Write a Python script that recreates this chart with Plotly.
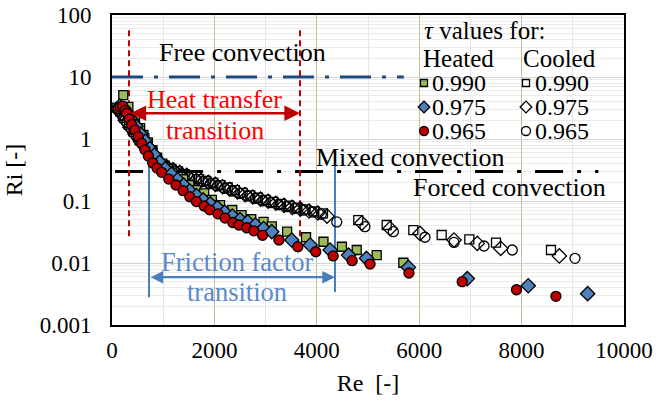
import math
import plotly.graph_objects as go

# ---------------- data ----------------
# Heated runs (tau values)
re_h990 = [220, 320, 450, 550, 615, 700, 790, 880, 980, 1080, 1180, 1290, 1390, 1510, 1640, 1800,
           1950, 2110, 2350, 2530, 2720, 2960, 3120, 3420, 3790, 4130, 4490, 4780, 5170, 5690]
ri_h990 = [5.1, 3.3, 2.2, 1.5, 1.16, 0.88, 0.66, 0.5, 0.4, 0.33, 0.28, 0.245, 0.224, 0.18, 0.150, 0.133,
           0.104, 0.086, 0.0716, 0.059, 0.051, 0.046, 0.039, 0.032, 0.026, 0.022, 0.0183, 0.0162, 0.0134, 0.0101]

re_h975 = [150, 230, 300, 380, 470, 560, 650, 740, 830, 930, 1040, 1160, 1280, 1400, 1520, 1650, 1780,
           1920, 2060, 2200, 2350, 2500, 2650, 2800, 2960, 3120, 3510, 3870, 4260, 4620, 4970, 5790,
           6940, 8130, 9290]
ri_h975 = [3.4, 3.1, 2.6, 2.05, 1.6, 1.2, 0.92, 0.7, 0.55, 0.42, 0.33, 0.27, 0.22, 0.18, 0.145, 0.122, 0.104,
           0.09, 0.078, 0.066, 0.057, 0.05, 0.046, 0.041, 0.036, 0.032, 0.0235, 0.0195, 0.0162, 0.0134, 0.0119, 0.0085,
           0.0056, 0.0043, 0.0032]

re_h965 = [120, 160, 210, 255, 290, 340, 385, 450, 515, 580, 645, 710, 795, 880, 970, 1110, 1250, 1390,
           1520, 1650, 1800, 1910, 2070, 2210, 2360, 2480, 2630, 2770, 2940, 3260, 3630, 3980, 4320,
           4690, 5040, 5800, 6840, 7900, 8670]
ri_h965 = [3.1, 3.3, 3.4, 2.9, 2.6, 2.1, 1.7, 1.4, 1.09, 0.85, 0.67, 0.53, 0.41, 0.34, 0.29, 0.226, 0.181, 0.147,
           0.117, 0.098, 0.083, 0.072, 0.062, 0.053, 0.045, 0.041, 0.037, 0.033, 0.028, 0.0235, 0.0183, 0.0152, 0.013,
           0.0109, 0.0096, 0.0069, 0.005, 0.0037, 0.0029]

# Cooled runs
re_c990 = [90, 160, 240, 330, 430, 540, 650, 770, 900, 1030, 1160, 1290, 1420, 1560, 1700, 1840, 1980,
           2120, 2260, 2400, 2550, 2700, 2850, 3000, 3150, 3300, 3460, 3620, 3780, 3950, 4120, 4810,
           5365, 5885, 6439, 6979, 7500, 8574]
ri_c990 = [3.2, 2.8, 2.2, 1.7, 1.3, 0.95, 0.72, 0.55, 0.43, 0.37, 0.33, 0.30, 0.27, 0.245, 0.225, 0.21, 0.195,
           0.18, 0.165, 0.15, 0.135, 0.123, 0.113, 0.104, 0.097, 0.09, 0.084, 0.078, 0.073, 0.068, 0.063, 0.049,
           0.041, 0.034, 0.0283, 0.0241, 0.0213, 0.0162]

re_c975 = [110, 180, 260, 350, 450, 560, 680, 800, 930, 1060, 1190, 1320, 1460, 1600, 1740, 1880, 2020,
           2160, 2300, 2450, 2600, 2750, 2900, 3050, 3200, 3360, 3520, 3680, 3850, 4020, 4200, 4880,
           5430, 6016, 6680, 7135, 7592, 8737]
ri_c975 = [3.0, 2.6, 2.0, 1.55, 1.2, 0.9, 0.68, 0.52, 0.42, 0.36, 0.32, 0.29, 0.26, 0.235, 0.215, 0.2, 0.185,
           0.17, 0.155, 0.14, 0.127, 0.116, 0.107, 0.099, 0.092, 0.085, 0.079, 0.074, 0.069, 0.064, 0.057, 0.044,
           0.036, 0.030, 0.0235, 0.0207, 0.0172, 0.013]

re_c965 = [130, 200, 290, 380, 480, 590, 710, 830, 960, 1090, 1220, 1360, 1500, 1640, 1780, 1920, 2060,
           2200, 2350, 2500, 2650, 2800, 2950, 3100, 3260, 3420, 3580, 3750, 3920, 4090, 4390, 4940,
           5495, 6113, 6680, 7266, 7818, 9043]
ri_c965 = [2.9, 2.4, 1.85, 1.45, 1.1, 0.83, 0.62, 0.48, 0.4, 0.345, 0.305, 0.275, 0.245, 0.225, 0.205, 0.19, 0.175,
           0.16, 0.145, 0.132, 0.12, 0.11, 0.101, 0.094, 0.087, 0.081, 0.076, 0.071, 0.066, 0.061, 0.046, 0.0386,
           0.032, 0.026, 0.0215, 0.0188, 0.0162, 0.0119]

# Regime boundaries (Ri) and their extents (Re)
ri_free = 10
re_free = [0, 5700]
ri_mixed = 0.3
re_mixed = [60, 9500]

# Heat-transfer transition band (Re) and friction-factor transition band (Re)
re_heat = [332, 3672]
ri_heat_span = [57, 0.026]
ri_heat_arrow = 2.6
re_fric = [723, 4355]
ri_fric_lo = [1.25, 0.38]
ri_fric_hi = [0.0028, 0.0034]
ri_fric_arrow = 0.0059

x_ticks = [0, 2000, 4000, 6000, 8000, 10000]
x_ticktext = ["0", "2000", "4000", "6000", "8000", "10000"]
y_ticks = [0.001, 0.01, 0.1, 1, 10, 100]
y_ticktext = ["0.001", "0.01", "0.1", "1", "10", "100"]
y_minor = [m * 10.0 ** e for e in range(-3, 2) for m in range(2, 10)]

legend_labels = ["0.990", "0.975", "0.965"]

# ---------------- style ----------------
FONT = "'Liberation Serif', 'Times New Roman', Times, serif"
GREEN = "#9BBB59"
BLUE = "#4F81BD"
RED = "#C00000"
DARKRED = "#C00000"
TXTRED = "#FF0000"
FBLUE = "#4A7EBB"
FTXT = "#5A8ACB"
NAVY = "#1F497D"
TAN = "#C4BD97"

fig = go.Figure()

# regime boundary lines
fig.add_trace(go.Scatter(x=re_free, y=[ri_free, ri_free], mode="lines",
                         line=dict(color=NAVY, width=3, dash="31px,11px,4px,11px"),
                         hoverinfo="skip", showlegend=False))
fig.add_trace(go.Scatter(x=re_mixed, y=[ri_mixed, ri_mixed], mode="lines",
                         line=dict(color="black", width=3, dash="28px,14px,4px,14px"),
                         hoverinfo="skip", showlegend=False))

# heat transfer transition bounds (red dashed)
for r in re_heat:
    fig.add_trace(go.Scatter(x=[r, r], y=ri_heat_span, mode="lines",
                             line=dict(color=DARKRED, width=2, dash="6px,4px"),
                             hoverinfo="skip", showlegend=False))
# friction factor transition bounds (blue solid)
for r, lo, hi in zip(re_fric, ri_fric_lo, ri_fric_hi):
    fig.add_trace(go.Scatter(x=[r, r], y=[lo, hi], mode="lines",
                             line=dict(color=FBLUE, width=2),
                             hoverinfo="skip", showlegend=False))

mline = dict(color="black", width=1.3)

# cooled series (open markers)
fig.add_trace(go.Scatter(x=re_c990, y=ri_c990, mode="markers", name="Cooled 0.990",
                         marker=dict(symbol="square-open", size=9, color="black", line=mline)))
fig.add_trace(go.Scatter(x=re_c975, y=ri_c975, mode="markers", name="Cooled 0.975",
                         marker=dict(symbol="diamond-open", size=11, color="black", line=mline)))
fig.add_trace(go.Scatter(x=re_c965, y=ri_c965, mode="markers", name="Cooled 0.965",
                         marker=dict(symbol="circle-open", size=10, color="black", line=mline)))

# heated series (filled markers)
fig.add_trace(go.Scatter(x=re_h990, y=ri_h990, mode="markers", name="Heated 0.990",
                         marker=dict(symbol="square", size=9, color=GREEN, line=mline)))
fig.add_trace(go.Scatter(x=re_h975, y=ri_h975, mode="markers", name="Heated 0.975",
                         marker=dict(symbol="diamond", size=11, color=BLUE, line=mline)))
fig.add_trace(go.Scatter(x=re_h965, y=ri_h965, mode="markers", name="Heated 0.965",
                         marker=dict(symbol="circle", size=10, color=RED, line=mline)))

# legend block drawn on an overlay axis measured in pixels of the plot area
leg_x_heated = 424
leg_x_cooled = 526
leg_rows = [83, 107, 131]
heated_syms = [("square", GREEN, 7), ("diamond", BLUE, 9), ("circle", RED, 9)]
cooled_syms = [("square-open", "black", 7), ("diamond-open", "black", 9), ("circle-open", "black", 9)]
for (sym, col, sz), yrow in zip(heated_syms, leg_rows):
    fig.add_trace(go.Scatter(x=[leg_x_heated], y=[yrow], xaxis="x2", yaxis="y2", mode="markers",
                             marker=dict(symbol=sym, size=sz, color=col, line=mline),
                             hoverinfo="skip", showlegend=False))
for (sym, col, sz), yrow in zip(cooled_syms, leg_rows):
    fig.add_trace(go.Scatter(x=[leg_x_cooled], y=[yrow], xaxis="x2", yaxis="y2", mode="markers",
                             marker=dict(symbol=sym, size=sz, color=col, line=mline),
                             hoverinfo="skip", showlegend=False))

ann = []
tf = dict(family=FONT, size=24, color="black")
hf = dict(family=FONT, size=25, color="black")
ann.append(dict(x=422, y=30, xref="x2", yref="y2", text="<i>τ</i> values for:", showarrow=False,
                xanchor="left", yanchor="middle", font=hf))
ann.append(dict(x=421, y=58, xref="x2", yref="y2", text="Heated", showarrow=False,
                xanchor="left", yanchor="middle", font=hf))
ann.append(dict(x=521, y=58, xref="x2", yref="y2", text="Cooled", showarrow=False,
                xanchor="left", yanchor="middle", font=hf))
for lab, yrow in zip(legend_labels, leg_rows):
    ann.append(dict(x=431, y=yrow, xref="x2", yref="y2", text=lab, showarrow=False,
                    xanchor="left", yanchor="middle", font=tf, borderpad=0))
    ann.append(dict(x=534, y=yrow, xref="x2", yref="y2", text=lab, showarrow=False,
                    xanchor="left", yanchor="middle", font=tf, borderpad=0))

# regime labels
af = dict(family=FONT, size=26, color="black")
ann.append(dict(x=2539, y=math.log10(25), text="Free convection", showarrow=False, font=af))
ann.append(dict(x=5820, y=math.log10(0.5), text="Mixed convection", showarrow=False, font=af,
                borderpad=0))
ann.append(dict(x=7754, y=math.log10(0.168), text="Forced convection", showarrow=False, font=af))

# heat transfer transition
rf = dict(family=FONT, size=26, color=TXTRED)
ann.append(dict(x=2010, y=math.log10(4.26), text="Heat transfer", showarrow=False, font=rf))
ann.append(dict(x=2010, y=math.log10(1.35), text="transition", showarrow=False, font=rf))
ann.append(dict(x=re_heat[1], y=math.log10(ri_heat_arrow), ax=re_heat[0], ay=math.log10(ri_heat_arrow),
                axref="x", ayref="y", text="", showarrow=True, arrowside="end+start",
                arrowhead=2, startarrowhead=2, arrowsize=1.25, startarrowsize=1.25,
                arrowwidth=2.5, arrowcolor=DARKRED))

# friction factor transition
bf = dict(family=FONT, size=26.5, color=FTXT)
ann.append(dict(x=2441, y=math.log10(0.0104), text="Friction factor", showarrow=False, font=bf))
ann.append(dict(x=2441, y=math.log10(0.0034), text="transition", showarrow=False, font=bf))
ann.append(dict(x=re_fric[1], y=math.log10(ri_fric_arrow), ax=re_fric[0], ay=math.log10(ri_fric_arrow),
                axref="x", ayref="y", text="", showarrow=True, arrowside="end+start",
                arrowhead=2, startarrowhead=2, arrowsize=1.15, startarrowsize=1.15,
                arrowwidth=2.2, arrowcolor=FBLUE))

tickfont = dict(family=FONT, size=23, color="black")
fig.update_layout(
    width=659, height=405,
    margin=dict(l=112, r=35, t=15, b=80),
    paper_bgcolor="white", plot_bgcolor="white",
    font=dict(family=FONT, color="black"),
    showlegend=False,
    annotations=ann,
    xaxis=dict(range=[0, 10000], tickvals=x_ticks, ticktext=x_ticktext, ticks="", tickfont=tickfont,
               automargin=False,
               showgrid=True, gridcolor=TAN, gridwidth=1.3,
               minor=dict(dtick=1000, tick0=0, showgrid=True, gridcolor="#E6E6E6", gridwidth=1),
               showline=True, linecolor="black", linewidth=2, mirror=True, zeroline=False,
               ticklabelstandoff=3,
               title=dict(text="Re\u00a0\u00a0[-]", font=dict(family=FONT, size=24, color="black"),
                          standoff=13)),
    yaxis=dict(type="log", range=[-3, 2], tickvals=y_ticks, ticktext=y_ticktext, ticks="",
               automargin=False,
               tickfont=tickfont, showgrid=True, gridcolor="#D4D4D4", gridwidth=1,
               minor=dict(tickmode="array", tickvals=y_minor, showgrid=True, gridcolor="#EBEBEB", gridwidth=1),
               showline=True, linecolor="black", linewidth=2, mirror=True, zeroline=False,
               ticklabelstandoff=14,
               title=dict(text="Ri [-]", font=dict(family=FONT, size=24, color="black"), standoff=10)),
    xaxis2=dict(overlaying="x", range=[112, 624], visible=False, anchor="y2"),
    yaxis2=dict(overlaying="y", range=[325, 15], visible=False, anchor="x2"),
)

fig.write_html("out.html")
